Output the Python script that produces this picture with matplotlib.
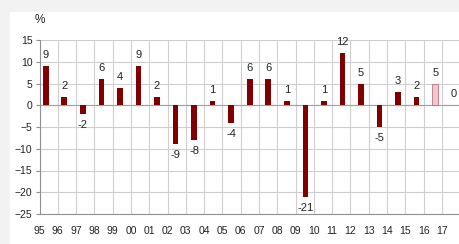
import matplotlib.pyplot as plt
import numpy as np

years = ["95", "96", "97", "98", "99", "00", "01", "02", "03", "04", "05", "06",
         "07", "08", "09", "10", "11", "12", "13", "14", "15", "16", "17"]
values = [9, 2, -2, 6, 4, 9, 2, -9, -8, 1, -4, 6, 6, 1, -21, 1, 12, 5, -5, 3, 2, 5, 0]
forecast = ["16"]

plt.rcParams['font.family'] = ['Liberation Sans', 'DejaVu Sans']

fig = plt.figure(figsize=(4.59, 2.44), dpi=100)
fig.patch.set_facecolor('#f2f2f2')
# white panel behind the chart
panel = plt.Rectangle((10 / 459, 0), 1, (244 - 12) / 244,
                      transform=fig.transFigure, color='white', zorder=-5)
fig.add_artist(panel)

ax = fig.add_axes([39.5 / 459, 30 / 244, 419.5 / 459, 174 / 244])
ax.set_facecolor('white')

n = len(years)
# bars sit on a slightly wider category step than the grid/labels
x = 0.34 + np.arange(n) * 1.014
colors = ['#f0c8cc' if y in forecast else '#800000' for y in years]
edges = ['#c07080' if y in forecast else 'none' for y in years]
widths = [0.6 if y in forecast else 0 for y in years]
ax.bar(x, values, width=0.31, color=colors, edgecolor=edges, linewidth=widths, zorder=3)

for xi, v in zip(x, values):
    off = 11 * 0.72 if v >= 0 else -11 * 0.72
    ax.annotate(str(v), (xi, v), xytext=(0, off), textcoords='offset points',
                ha='center', va='center', fontsize=8, color='#222222')

ax.set_xlim(0, 419.5 / 18.29)
ax.set_ylim(-25, 15)
ax.set_yticks(np.arange(-25, 16, 5))
ax.set_xticks(np.arange(n))
ax.set_xticklabels(years)
ax.grid(True, color='#cfcfcf', linewidth=0.8, zorder=0)
ax.set_axisbelow(True)
ax.axhline(0, color='#a0a0a0', linewidth=0.8, zorder=2)

for s in ['top', 'right']:
    ax.spines[s].set_visible(False)
for s in ['left', 'bottom']:
    ax.spines[s].set_color('#909090')
    ax.spines[s].set_linewidth(0.8)
ax.tick_params(axis='y', length=3, color='#909090', labelsize=7.5, pad=2, labelcolor='#222222')
ax.tick_params(axis='x', length=0, labelsize=7.5, pad=9, labelcolor='#222222')

fig.text(40 / 459, 1 - 20 / 244, '%', ha='center', va='center', fontsize=8.5, color='#222222')

fig.savefig('out.png', dpi=100, facecolor=fig.get_facecolor())
